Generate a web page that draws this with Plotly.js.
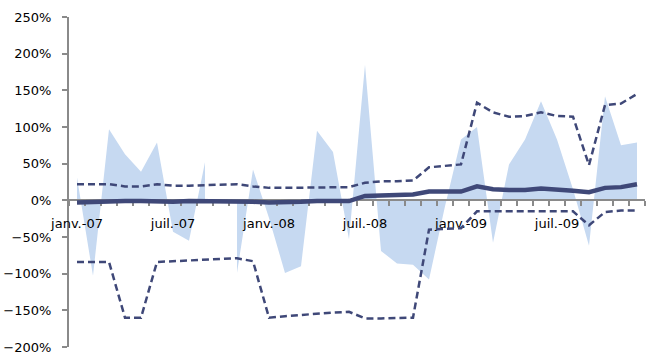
<!DOCTYPE html>
<html>
<head>
<meta charset="utf-8">
<script src="https://cdn.plot.ly/plotly-3.0.1.min.js"></script>
<style>
  html, body { margin: 0; padding: 0; background: #ffffff; }
  #chart { width: 653px; height: 356px; }
</style>
</head>
<body>
<div id="chart"></div>
<script>
// ---- Data (values in %) ----
const monthLabels = [
  'janv.-07','févr.-07','mars-07','avr.-07','mai-07','juin-07','juil.-07','août-07','sept.-07','oct.-07','nov.-07','déc.-07',
  'janv.-08','févr.-08','mars-08','avr.-08','mai-08','juin-08','juil.-08','août-08','sept.-08','oct.-08','nov.-08','déc.-08',
  'janv.-09','févr.-09','mars-09','avr.-09','mai-09','juin-09','juil.-09','août-09','sept.-09','oct.-09','nov.-09','déc.-09'
];
const labelledMonths = ['janv.-07','juil.-07','janv.-08','juil.-08','janv.-09','juil.-09'];

const areaValues  = [31,-103,97,63,39,79,-43,-55,52,null,-99,42,-24,-99,-90,95,66,-53,185,-69,-86,-88,-108,-8,83,100,-58,49,83,135,83,15,-62,142,75,79];
const meanValues  = [-3,-2,-1,-1,-1,-2,-2,-1,-1,-1,-1,-2,-3,-3,-2,-1,-1,-1,6,7,7,8,12,12,12,19,15,14,14,16,15,13,11,17,18,22];
const upperValues = [22,22,22,19,19,22,20,20,21,21,22,19,17,17,17,17,18,18,24,26,26,27,45,47,49,133,120,114,115,120,115,114,48,130,132,145];
const lowerValues = [-84,-84,-84,-160,-160,-84,-83,-82,-81,-80,-79,-83,-160,-158,-156,-155,-153,-152,-161,-161,-161,-160,-40,-39,-38,-15,-15,-15,-15,-15,-15,-15,-34,-16,-14,-14];

const yMin = -200, yMax = 250, yStep = 50;

// ---- Build traces ----
const xIdx = monthLabels.map((_, i) => i);
const navy = '#3f4878';
const areaColor = '#c6d9f1';
const axisGray = '#8a8a8a';

// split the area series at empty months (Excel area with gaps)
const areaTraces = [];
let segX = [], segY = [];
areaValues.forEach((v, i) => {
  if (v === null) {
    if (segX.length) areaTraces.push({x: segX, y: segY});
    segX = []; segY = [];
  } else { segX.push(i); segY.push(v); }
});
if (segX.length) areaTraces.push({x: segX, y: segY});

const traces = areaTraces.map(s => ({
  type: 'scatter', mode: 'none', x: s.x, y: s.y,
  fill: 'tozeroy', fillcolor: areaColor, xaxis: 'x', yaxis: 'y', hoverinfo: 'skip'
}));

traces.push({
  type: 'scatter', mode: 'lines', x: xIdx, y: upperValues,
  line: {color: navy, width: 2.5, dash: '7px,4px'}, xaxis: 'x2', yaxis: 'y2'
});
traces.push({
  type: 'scatter', mode: 'lines', x: xIdx, y: lowerValues,
  line: {color: navy, width: 2.5, dash: '7px,4px'}, xaxis: 'x2', yaxis: 'y2'
});
traces.push({
  type: 'scatter', mode: 'lines', x: xIdx, y: meanValues,
  line: {color: navy, width: 4.5}, xaxis: 'x2', yaxis: 'y2'
});

const xRange = [-0.5, monthLabels.length - 0.5];
const tickIdx = labelledMonths.map(l => monthLabels.indexOf(l));
const zeroPos = (0 - yMin) / (yMax - yMin);

const layout = {
  width: 653, height: 356,
  margin: {l: 69, r: 8, t: 17, b: 9, pad: 0},
  paper_bgcolor: '#ffffff', plot_bgcolor: 'rgba(0,0,0,0)',
  showlegend: false,
  font: {family: 'DejaVu Sans, sans-serif', size: 13, color: '#000000'},
  // labels of the category axis
  xaxis: {
    type: 'linear', range: xRange, anchor: 'free', position: zeroPos,
    showline: false,
    tickmode: 'array', tickvals: tickIdx, ticktext: labelledMonths,
    ticks: '', showgrid: false, zeroline: false, ticklabelstandoff: 14,
    fixedrange: true
  },
  yaxis: {
    range: [yMin, yMax], tickmode: 'linear', tick0: 0, dtick: yStep, ticksuffix: '%',
    showline: true, linecolor: axisGray, linewidth: 2,
    ticks: 'outside', ticklen: 5, tickwidth: 2, tickcolor: axisGray,
    showgrid: false, zeroline: false, ticklabelstandoff: 8, fixedrange: true
  },
  // axis line and month boundary ticks, drawn above the area but below the lines
  xaxis2: {
    type: 'linear', range: xRange, anchor: 'free', position: zeroPos,
    showline: true, linecolor: axisGray, linewidth: 2,
    tickmode: 'linear', tick0: -0.5, dtick: 1,
    ticks: 'outside', ticklen: 5, tickwidth: 2, tickcolor: axisGray,
    showticklabels: false, showgrid: false, zeroline: false,
    layer: 'below traces', fixedrange: true
  },
  yaxis2: {range: [yMin, yMax], visible: false, anchor: 'x2', fixedrange: true}
};

Plotly.newPlot('chart', traces, layout, {staticPlot: true, displayModeBar: false});
</script>
</body>
</html>
